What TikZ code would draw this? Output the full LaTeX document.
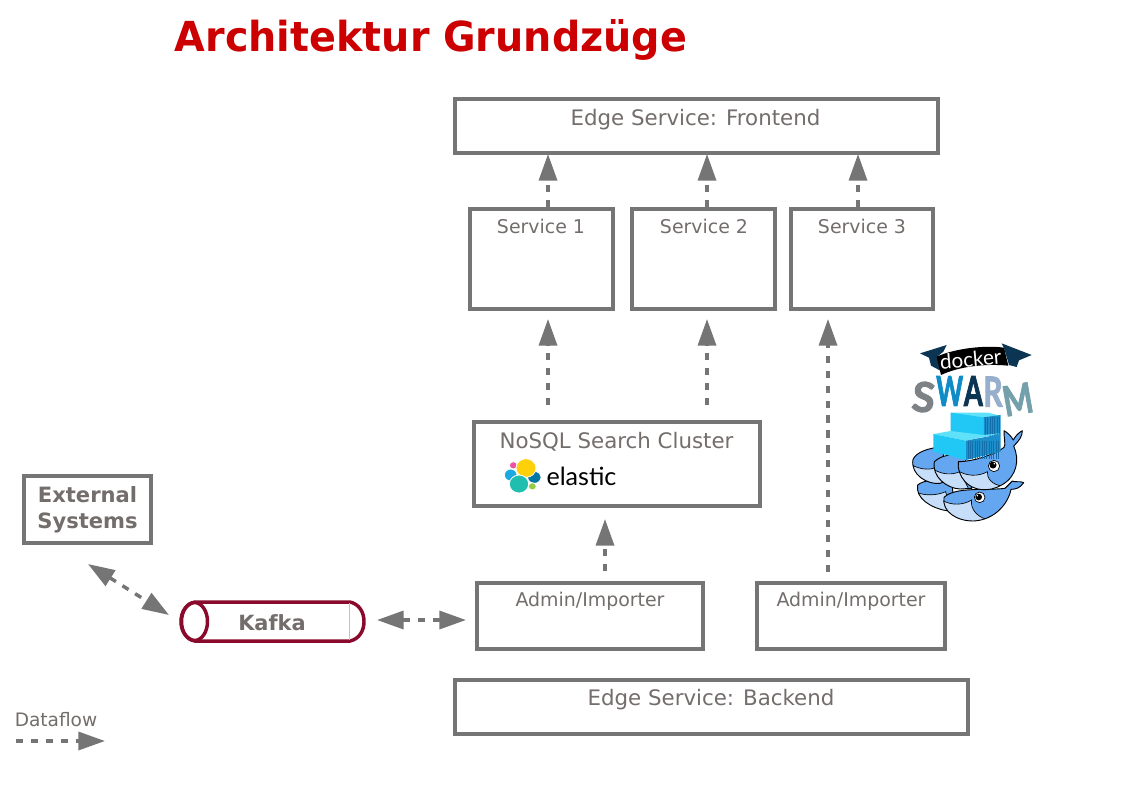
\documentclass[tikz,border=0pt]{standalone}
\usepackage{fontspec}
\usepackage{graphicx}
\setmainfont{DejaVu Sans}
\newfontfamily\logofont{Lato}
\newfontfamily\swarmfont[BoldFeatures={FakeBold=2.5}]{Lato}
\usetikzlibrary{arrows.meta}
\definecolor{boxgray}{HTML}{757575}
\definecolor{txtgray}{HTML}{736D6B}
\definecolor{kafkared}{HTML}{8A0A2C}
\definecolor{titlered}{HTML}{CC0000}
\definecolor{whale}{HTML}{64A6F0}
\definecolor{belly}{HTML}{C6DEFA}
\definecolor{cont}{HTML}{22C8F5}
\definecolor{contd}{HTML}{1B8FCB}
\definecolor{contl}{HTML}{5FE1FA}
\definecolor{contline}{HTML}{146EAA}
\definecolor{navy}{HTML}{0B3553}
\definecolor{elpink}{HTML}{F150A0}
\definecolor{elsky}{HTML}{1BA9E0}
\definecolor{eldark}{HTML}{0077A5}
\definecolor{elgreen}{HTML}{92CD46}
\definecolor{elyellow}{HTML}{FED00A}
\definecolor{elteal}{HTML}{20BEAF}
\definecolor{swS}{HTML}{7D8287}
\definecolor{swW}{HTML}{0F8CC8}
\definecolor{swR}{HTML}{96AFCD}
\definecolor{swM}{HTML}{73A0AA}
\tikzset{
  x=0.75pt,y=-0.75pt,
  box/.style={draw=boxgray,line width=2.7pt,fill=white,anchor=north west,inner sep=0pt,outer sep=0pt},
  lbl/.style={text=txtgray,font=\fontsize{16}{19}\selectfont,anchor=center},
  lbls/.style={text=txtgray,font=\fontsize{14.2}{17}\selectfont,anchor=center},
  flow/.style={draw=boxgray,line width=2.6pt,dash pattern=on 5.4pt off 5.8pt,
     -{Triangle[length=20pt,width=13.5pt,fill=boxgray]}},
  flowb/.style={draw=boxgray,line width=2.6pt,dash pattern=on 5.4pt off 5.8pt,
     {Triangle[length=20pt,width=13.5pt,fill=boxgray]}-{Triangle[length=20pt,width=13.5pt,fill=boxgray]}},
  wout/.style={draw=black,line width=0.7pt,line join=round},
  swarm/.style={font=\swarmfont\bfseries\fontsize{31}{32}\selectfont,inner sep=0pt},
  blob/.style={draw=white,line width=0.6pt},
}
\newcommand{\pxbox}[5]{%
  \node[box,minimum width=#4*0.75pt-1.5pt,minimum height=#5*0.75pt-1.5pt] (#1) at (#2+1,#3+1) {};}
% a whale: #1 body outline, #2 belly region (clipped to the body)
\newcommand{\whaleshape}[2]{%
  \fill[whale] #1;
  \begin{scope}\clip #1; \fill[belly] #2; \draw[black,line width=0.5pt] #2; \end{scope}
  \draw[wout] #1;}
\begin{document}
\begin{tikzpicture}
\useasboundingbox (0,0) rectangle (1123,794);
\fill[white] (0,0) rectangle (1123,794);

\node[text=titlered,font=\fontsize{31}{36}\bfseries\selectfont,anchor=base,inner sep=0pt] (title) at (431,51.7) {\scalebox{0.96}[1]{Architektur Grundzüge}};

\pxbox{front}{454}{98}{485}{56}
\pxbox{s1}{469}{208}{145}{102}
\pxbox{s2}{631}{208}{145}{102}
\pxbox{s3}{790}{208}{144}{102}
\pxbox{nosql}{473}{421}{288}{86}
\pxbox{adm1}{476}{582}{228}{68}
\pxbox{adm2}{756}{582}{190}{68}
\pxbox{back}{454}{679}{515}{56}
\pxbox{ext}{23}{475}{129}{69}

\node[lbl] (tfront) at (695.5,120) {Edge Service: Frontend};
\node[lbls] (ts1) at (541,226) {Service 1};
\node[lbls] (ts2) at (704,226) {Service 2};
\node[lbls] (ts3) at (862,226) {Service 3};
\node[lbl] (tnosql) at (616.5,442) {NoSQL Search Cluster};
\node[lbls] (tadm1) at (590,601.5) {Admin/Importer};
\node[lbls] (tadm2) at (851,601.5) {Admin/Importer};
\node[lbl] (tback) at (711,700) {Edge Service: Backend};
\node[text=txtgray,font=\fontsize{15.8}{19.5}\bfseries\selectfont,align=center] (text) at (87.5,510) {External\\Systems};
\node[text=txtgray,font=\fontsize{13.9}{16}\selectfont,anchor=west,inner sep=0pt] (tdata) at (14.5,720) {Dataflow};

% Kafka cylinder
\node[minimum width=183*0.75pt,minimum height=39*0.75pt,inner sep=0pt] (kafka) at (272.5,621.5) {};
\draw[kafkared,line width=2.6pt,fill=white]
  (195,602) -- (350,602) .. controls (359,604) and (364,612) .. (364,621.5)
  .. controls (364,631) and (359,639) .. (350,641) -- (195,641)
  .. controls (186,639) and (181,631) .. (181,621.5)
  .. controls (181,612) and (186,604) .. (195,602) -- cycle;
\draw[kafkared,line width=2.6pt] (194.5,621.5) ellipse [x radius=13,y radius=19];
\draw[kafkared!30,line width=0.6pt] (349,603) -- (349,640);
\node[text=txtgray,font=\fontsize{15.7}{18}\bfseries\selectfont] (tkafka) at (272,623) {Kafka};

% free ends of connectors
\coordinate (a1) at (548,207); \coordinate (a1e) at (548,154);
\coordinate (a2) at (707,207); \coordinate (a2e) at (707,154);
\coordinate (a3) at (858,207); \coordinate (a3e) at (858,154);
\coordinate (b1) at (548,405); \coordinate (b1e) at (548,319);
\coordinate (b2) at (707,405); \coordinate (b2e) at (707,319);
\coordinate (b3) at (828,572); \coordinate (b3e) at (828,319);
\coordinate (c1) at (605,571); \coordinate (c1e) at (605,519);
\coordinate (d1) at (377,620); \coordinate (d1e) at (466,620);
\coordinate (e1) at (88,564);  \coordinate (e1e) at (169,615);
\coordinate (f1) at (16,741);  \coordinate (f1e) at (105,741);
\draw[flow] (a1) -- (a1e);
\draw[flow] (a2) -- (a2e);
\draw[flow] (a3) -- (a3e);
\draw[flow] (b1) -- (b1e);
\draw[flow] (b2) -- (b2e);
\draw[flow] (b3) -- (b3e);
\draw[flow] (c1) -- (c1e);
\draw[flowb] (d1) -- (d1e);
\draw[flowb] (e1) -- (e1e);
\draw[flow] (f1) -- (f1e);

% elastic logo (coordinates of a 3x crop)
\begin{scope}[shift={(470,420)},scale=1/3]
    \filldraw[blob,fill=elpink] (130,136) ellipse [x radius=12,y radius=11];
    \filldraw[blob,fill=elsky] (122,165) ellipse [x radius=19,y radius=18];
    \filldraw[blob,fill=eldark] (193,172) ellipse [x radius=20,y radius=18];
    \filldraw[blob,fill=elgreen] (187,199) ellipse [x radius=12,y radius=11];
    \filldraw[blob,fill=elyellow] (168,144) ellipse [x radius=30,y radius=28];
    \filldraw[blob,fill=elteal] (147,192) ellipse [x radius=29,y radius=27];
\end{scope}
\node[text=black,font=\logofont\fontsize{18.8}{20}\selectfont,inner sep=0pt] (telastic) at (581.5,476) {elastic};

% docker swarm banner and letters (coordinates of a 3x crop)
\begin{scope}[shift={(905,335)},scale=1/3]
  \fill[navy] (45,55) -- (125,30) -- (115,50) -- (100,62) -- (108,108) -- (78,92) -- (72,68) -- cycle;
  \fill[navy] (380,60) -- (290,25) -- (298,42) -- (312,90) -- (335,96) -- (342,76) -- cycle;
  \fill[black] (95,65) .. controls (150,40) and (240,30) .. (297,38)
     -- (310,92) .. controls (240,85) and (160,95) .. (108,120) -- cycle;
  \node[text=white,font=\logofont\fontsize{15.5}{16}\selectfont,rotate=5,inner sep=0pt] (tdocker) at (197,72) {docker};
  \node[swarm,text=swS,rotate=-6] (sS) at (56,186) {\scalebox{1.0}[1]{S}};
  \node[swarm,text=swW] (sW) at (134,168) {\scalebox{0.62}[1]{W}};
  \node[swarm,text=navy] (sA) at (205,168) {\scalebox{0.66}[1]{A}};
  \node[swarm,text=swR] (sR) at (264,170) {\scalebox{0.72}[1]{R}};
  \node[swarm,text=swM,rotate=10] (sM) at (338,193) {\scalebox{0.76}[1]{M}};
\end{scope}

% whales and containers (coordinates of a 3x crop)
\begin{scope}[shift={(905,420)},scale=1/3]
  % lower left
  \whaleshape{(38,195) .. controls (55,180) and (100,175) .. (140,185) -- (150,270) -- (125,272)
     .. controls (80,265) and (30,235) .. (38,195) -- cycle}
    {(30,215) .. controls (60,230) and (100,225) .. (122,215) -- (140,290) -- (30,290) -- cycle}
  % lower big
  \whaleshape{(117,232) .. controls (150,200) and (240,212) .. (300,205)
     .. controls (310,195) and (315,190) .. (322,183) .. controls (330,188) and (345,182) .. (356,188)
     .. controls (345,205) and (330,208) .. (318,208)
     .. controls (310,250) and (270,300) .. (205,303)
     .. controls (155,303) and (110,275) .. (117,232) -- cycle}
    {(110,240) .. controls (140,258) and (175,255) .. (200,240)
     .. controls (195,265) and (215,290) .. (245,298) -- (200,320) -- (100,320) -- cycle}
  \filldraw[fill=white,draw=black,line width=0.5pt] (224,232) circle [radius=16];
  \fill[black] (221,231) circle [radius=10];
  \fill[white] (217,227) circle [radius=2.5];
  % upper left
  \whaleshape{(24,118) .. controls (35,95) and (70,85) .. (110,80) -- (130,180) -- (105,190)
     .. controls (70,195) and (15,165) .. (24,118) -- cycle}
    {(20,135) .. controls (50,150) and (75,150) .. (95,142) -- (125,200) -- (20,200) -- cycle}
  % upper middle
  \whaleshape{(88,125) .. controls (110,105) and (140,100) .. (180,110) -- (200,205) -- (165,207)
     .. controls (125,205) and (80,170) .. (88,125) -- cycle}
    {(85,148) .. controls (115,165) and (140,165) .. (165,155) -- (195,215) -- (85,215) -- cycle}
  % upper big with tail
  \whaleshape{(160,125) .. controls (200,125) and (270,105) .. (297,82)
     .. controls (303,75) and (296,50) .. (297,32)
     .. controls (308,38) and (318,48) .. (325,60)
     .. controls (330,50) and (340,38) .. (352,32)
     .. controls (352,50) and (342,62) .. (326,78)
     .. controls (345,120) and (335,170) .. (290,195)
     .. controls (250,218) and (205,212) .. (180,185)
     .. controls (165,168) and (157,145) .. (160,125) -- cycle}
    {(155,150) .. controls (185,170) and (220,170) .. (247,155)
     .. controls (245,175) and (262,195) .. (292,198) -- (250,230) -- (150,230) -- cycle}
  \filldraw[fill=white,draw=black,line width=0.5pt] (267,138) circle [radius=17];
  \fill[black] (264,135) circle [radius=10.5];
  \fill[white] (268,131) circle [radius=2.5];

  % upper container
  \fill[contl] (137,-22) -- (250,-22) -- (287,-12) -- (187,0) -- cycle;
  \fill[cont] (137,-22) -- (235,-8) -- (235,50) -- (137,35) -- cycle;
  \fill[contd] (235,-8) -- (287,-15) -- (287,42) -- (235,50) -- cycle;
  \foreach \i in {241,248,...,285} \draw[contline,line width=0.4pt] (\i,-9) -- (\i,48);
  % lower container
  \fill[contl] (85,42) -- (137,33) -- (235,45) -- (285,40) -- (183,62) -- cycle;
  \fill[cont] (85,42) -- (183,62) -- (183,120) -- (85,95) -- cycle;
  \fill[contd] (183,62) -- (287,42) -- (287,95) -- (183,120) -- cycle;
  \foreach \i in {189,196,...,285} \draw[contline,line width=0.4pt] (\i,62) -- (\i,117);
\end{scope}
\end{tikzpicture}
\end{document}
